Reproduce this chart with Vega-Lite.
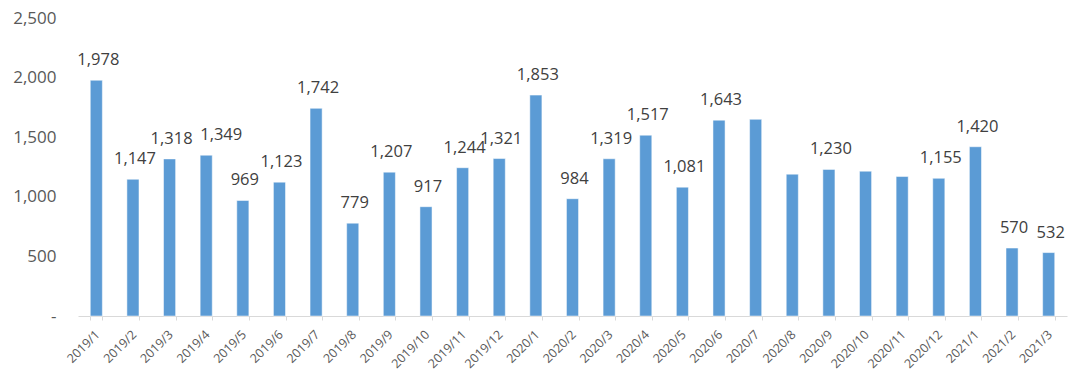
{
  "$schema": "https://vega.github.io/schema/vega-lite/v6.json",
  "width": 989,
  "height": 298,
  "autosize": {"type": "none"},
  "padding": {"left": 78, "top": 18, "right": 13, "bottom": 69},
  "background": "white",
  "config": {"view": {"stroke": null}, "font": "Open Sans"},
  "data": {
    "values": [
      {"month": "2019/1", "value": 1978, "label": "1,978"},
      {"month": "2019/2", "value": 1147, "label": "1,147"},
      {"month": "2019/3", "value": 1318, "label": "1,318"},
      {"month": "2019/4", "value": 1349, "label": "1,349"},
      {"month": "2019/5", "value": 969, "label": "969"},
      {"month": "2019/6", "value": 1123, "label": "1,123"},
      {"month": "2019/7", "value": 1742, "label": "1,742"},
      {"month": "2019/8", "value": 779, "label": "779"},
      {"month": "2019/9", "value": 1207, "label": "1,207"},
      {"month": "2019/10", "value": 917, "label": "917"},
      {"month": "2019/11", "value": 1244, "label": "1,244"},
      {"month": "2019/12", "value": 1321, "label": "1,321"},
      {"month": "2020/1", "value": 1853, "label": "1,853"},
      {"month": "2020/2", "value": 984, "label": "984"},
      {"month": "2020/3", "value": 1319, "label": "1,319"},
      {"month": "2020/4", "value": 1517, "label": "1,517"},
      {"month": "2020/5", "value": 1081, "label": "1,081"},
      {"month": "2020/6", "value": 1643, "label": "1,643"},
      {"month": "2020/7", "value": 1650, "label": ""},
      {"month": "2020/8", "value": 1190, "label": ""},
      {"month": "2020/9", "value": 1230, "label": "1,230"},
      {"month": "2020/10", "value": 1215, "label": ""},
      {"month": "2020/11", "value": 1170, "label": ""},
      {"month": "2020/12", "value": 1155, "label": "1,155"},
      {"month": "2021/1", "value": 1420, "label": "1,420"},
      {"month": "2021/2", "value": 570, "label": "570"},
      {"month": "2021/3", "value": 532, "label": "532"}
    ]
  },
  "encoding": {
    "x": {
      "field": "month",
      "type": "nominal",
      "sort": null,
      "scale": {"paddingInner": 0.67, "paddingOuter": 0.335},
      "axis": {
        "title": null,
        "labelAngle": -45,
        "labelAlign": "right",
        "labelBaseline": "middle",
        "labelFontSize": 12.5,
        "labelColor": "#595959",
        "labelPadding": 12,
        "domainColor": "#d9d9d9",
        "tickColor": "#d9d9d9",
        "tickBand": "extent",
        "tickSize": 4,
        "labelOffset": 1
      }
    },
    "y": {
      "field": "value",
      "type": "quantitative",
      "scale": {"domain": [0, 2500], "nice": false},
      "axis": {
        "title": null,
        "values": [0, 500, 1000, 1500, 2000, 2500],
        "grid": false,
        "domain": false,
        "ticks": false,
        "labelFontSize": 17,
        "labelColor": "#595959",
        "labelPadding": 22,
        "labelExpr": "datum.value == 0 ? '-' : format(datum.value, ',')"
      }
    }
  },
  "layer": [
    {"mark": {"type": "bar", "color": "#5B9BD5", "stroke": "#ffffff", "strokeWidth": 0.5}},
    {
      "transform": [{"filter": "datum.month != '2019/4'"}],
      "mark": {"type": "text", "baseline": "bottom", "dy": -12, "dx": 2, "fontSize": 16.5, "color": "#404040"},
      "encoding": {"text": {"field": "label"}}
    },
    {
      "transform": [{"filter": "datum.month == '2019/4'"}],
      "mark": {"type": "text", "baseline": "bottom", "dy": -12, "dx": 15, "fontSize": 16.5, "color": "#404040"},
      "encoding": {"text": {"field": "label"}}
    }
  ]
}
